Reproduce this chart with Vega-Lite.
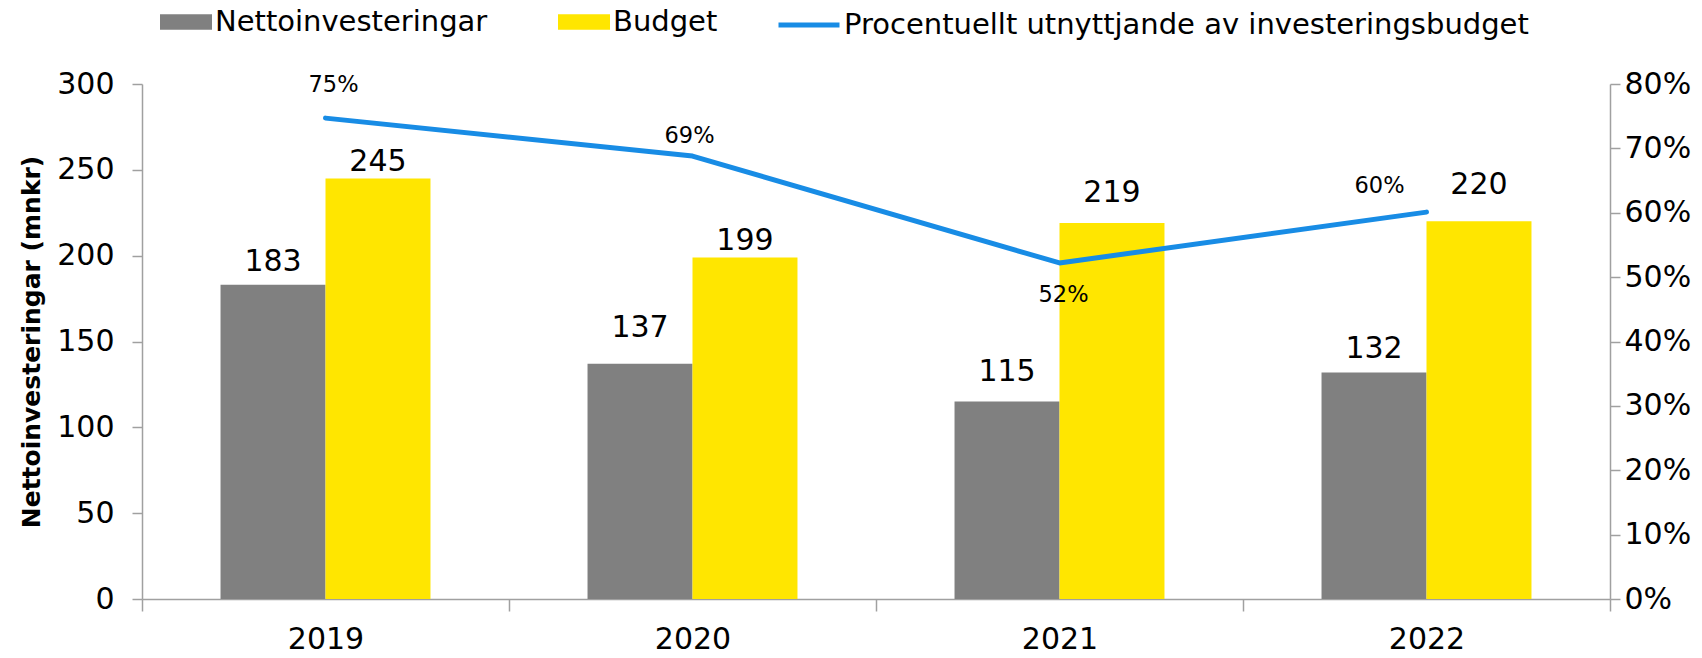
{
  "$schema": "https://vega.github.io/schema/vega-lite/v6.json",
  "width": 1468,
  "height": 515,
  "autosize": {"type": "none"},
  "padding": {"left": 142, "top": 84, "right": 92, "bottom": 59},
  "background": "white",
  "config": {
    "view": {"stroke": null},
    "font": "DejaVu Sans",
    "axis": {
      "grid": false,
      "domainColor": "#a0a0a0",
      "tickColor": "#a0a0a0",
      "domainWidth": 1.5,
      "tickWidth": 1.5,
      "labelFont": "DejaVu Sans",
      "labelFontSize": 30,
      "labelColor": "#000000"
    }
  },
  "datasets": {
    "bars": [
      {"year": "2019", "series": "Nettoinvesteringar", "value": 183},
      {"year": "2019", "series": "Budget", "value": 245},
      {"year": "2020", "series": "Nettoinvesteringar", "value": 137},
      {"year": "2020", "series": "Budget", "value": 199},
      {"year": "2021", "series": "Nettoinvesteringar", "value": 115},
      {"year": "2021", "series": "Budget", "value": 219},
      {"year": "2022", "series": "Nettoinvesteringar", "value": 132},
      {"year": "2022", "series": "Budget", "value": 220}
    ],
    "pct": [
      {"year": "2019", "series": "Procentuellt utnyttjande av investeringsbudget", "pct": 0.747},
      {"year": "2020", "series": "Procentuellt utnyttjande av investeringsbudget", "pct": 0.688},
      {"year": "2021", "series": "Procentuellt utnyttjande av investeringsbudget", "pct": 0.522},
      {"year": "2022", "series": "Procentuellt utnyttjande av investeringsbudget", "pct": 0.601}
    ]
  },
  "encoding": {
    "x": {
      "field": "year", "type": "nominal",
      "scale": {"paddingInner": 0, "paddingOuter": 0},
      "axis": {"title": null, "labelAngle": 0, "tickBand": "extent", "tickSize": 12, "labelPadding": 13}
    }
  },
  "layer": [
    {
      "data": {"name": "bars"},
      "encoding": {
        "y": {
          "field": "value", "type": "quantitative",
          "scale": {"domain": [0, 300]},
          "axis": {
            "title": "Nettoinvesteringar (mnkr)",
            "values": [0, 50, 100, 150, 200, 250, 300],
            "tickSize": 10, "labelPadding": 18,
            "titleFont": "DejaVu Sans", "titleFontSize": 25, "titleFontWeight": "bold",
            "titleColor": "#000000", "titlePadding": 12
          }
        },
        "xOffset": {
          "field": "series", "type": "nominal",
          "sort": ["Nettoinvesteringar", "Budget"],
          "scale": {"paddingInner": 0, "paddingOuter": 0.748}
        }
      },
      "layer": [
        {
          "mark": {"type": "bar"},
          "encoding": {
            "fill": {
              "field": "series", "type": "nominal",
              "scale": {"domain": ["Nettoinvesteringar", "Budget"], "range": ["#808080", "#FFE600"]},
              "legend": {
                "orient": "none", "legendX": 18, "legendY": -88,
                "direction": "horizontal", "title": null,
                "symbolType": "M-1,-0.3L1,-0.3L1,0.3L-1,0.3Z",
                "symbolSize": 2704, "symbolStrokeWidth": 0,
                "labelFont": "DejaVu Sans", "labelFontSize": 29, "labelColor": "#000000",
                "labelOffset": 3, "columnPadding": 70, "labelLimit": 1000
              }
            }
          }
        },
        {
          "transform": [{"filter": "datum.value == 245 || datum.value == 199"}],
          "mark": {"type": "text", "fontSize": 30, "baseline": "middle", "dy": -16, "color": "#000000"},
          "encoding": {"text": {"field": "value", "type": "quantitative"}}
        },
        {
          "transform": [{"filter": "datum.value == 183 || datum.value == 132"}],
          "mark": {"type": "text", "fontSize": 30, "baseline": "middle", "dy": -23, "color": "#000000"},
          "encoding": {"text": {"field": "value", "type": "quantitative"}}
        },
        {
          "transform": [{"filter": "datum.value == 115 || datum.value == 219"}],
          "mark": {"type": "text", "fontSize": 30, "baseline": "middle", "dy": -30, "color": "#000000"},
          "encoding": {"text": {"field": "value", "type": "quantitative"}}
        },
        {
          "transform": [{"filter": "datum.value == 137 || datum.value == 220"}],
          "mark": {"type": "text", "fontSize": 30, "baseline": "middle", "dy": -36, "color": "#000000"},
          "encoding": {"text": {"field": "value", "type": "quantitative"}}
        }
      ]
    },
    {
      "data": {"name": "pct"},
      "encoding": {
        "y": {
          "field": "pct", "type": "quantitative",
          "scale": {"domain": [0, 0.8]},
          "axis": {
            "orient": "right", "format": ".0%", "title": null,
            "values": [0, 0.1, 0.2, 0.3, 0.4, 0.5, 0.6, 0.7, 0.8],
            "tickSize": 10, "labelPadding": 4
          }
        }
      },
      "layer": [
        {
          "mark": {"type": "line", "strokeWidth": 5, "strokeCap": "round", "strokeJoin": "round"},
          "encoding": {
            "stroke": {
              "field": "series", "type": "nominal",
              "scale": {"range": ["#188CE5"]},
              "legend": {
                "orient": "none", "legendX": 634, "legendY": -92,
                "title": null, "symbolType": "stroke", "symbolSize": 3721, "symbolStrokeWidth": 5,
                "labelFont": "DejaVu Sans", "labelFontSize": 29, "labelColor": "#000000",
                "labelOffset": 2, "labelLimit": 1000
              }
            }
          }
        },
        {
          "transform": [{"filter": "datum.year == '2019'"}],
          "mark": {"type": "text", "fontSize": 22.5, "baseline": "middle", "dx": 8, "dy": -33, "color": "#000000"},
          "encoding": {"text": {"field": "pct", "type": "quantitative", "format": ".0%"}}
        },
        {
          "transform": [{"filter": "datum.year == '2020'"}],
          "mark": {"type": "text", "fontSize": 22.5, "baseline": "middle", "dx": -3, "dy": -20, "color": "#000000"},
          "encoding": {"text": {"field": "pct", "type": "quantitative", "format": ".0%"}}
        },
        {
          "transform": [{"filter": "datum.year == '2021'"}],
          "mark": {"type": "text", "fontSize": 22.5, "baseline": "middle", "dx": 4, "dy": 32, "color": "#000000"},
          "encoding": {"text": {"field": "pct", "type": "quantitative", "format": ".0%"}}
        },
        {
          "transform": [{"filter": "datum.year == '2022'"}],
          "mark": {"type": "text", "fontSize": 22.5, "baseline": "middle", "dx": -47, "dy": -26, "color": "#000000"},
          "encoding": {"text": {"field": "pct", "type": "quantitative", "format": ".0%"}}
        }
      ]
    }
  ],
  "resolve": {"scale": {"y": "independent"}}
}
